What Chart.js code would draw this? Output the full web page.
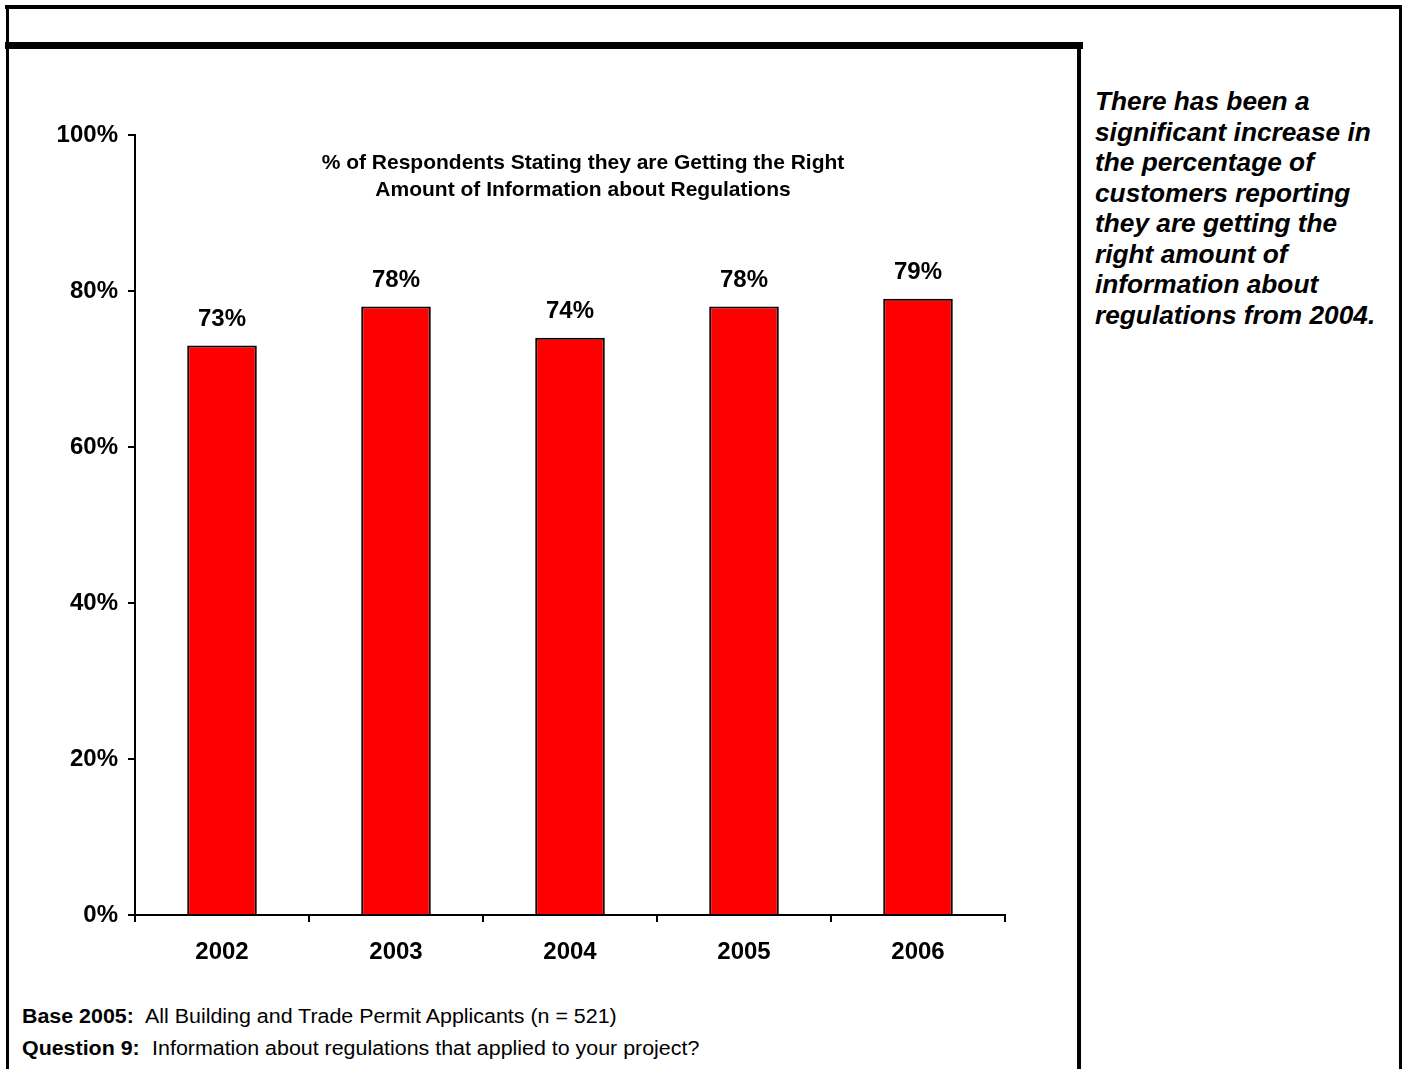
<!DOCTYPE html>
<html>
<head>
<meta charset="utf-8">
<script src="https://cdn.jsdelivr.net/npm/chart.js@4.4.1/dist/chart.umd.min.js"></script>
<style>
  body { margin: 0; width: 1405px; height: 1069px; position: relative; background: #fff; overflow: hidden; font-family: "Liberation Sans", Arial, sans-serif; }
  .rule { position: absolute; background: #000; }
  #chartBox { position: absolute; left: 0; top: 0; width: 1075px; height: 1000px; }
  .note { position: absolute; left: 1095px; top: 86px; font: italic bold 26px "Liberation Sans", Arial, sans-serif; line-height: 30.5px; color: #000; transform: scaleX(1.01); transform-origin: left top; }
  .foot { position: absolute; left: 22px; font: 20px "Liberation Sans", Arial, sans-serif; color: #000; white-space: nowrap; transform: scaleX(1.07); transform-origin: left center; }
  .foot b { margin-right: 6px; }
</style>
</head>
<body>
<!-- frame -->
<div class="rule" style="left:5px;top:5px;width:1397px;height:4px"></div>
<div class="rule" style="left:6px;top:5px;width:3px;height:1064px"></div>
<div class="rule" style="left:1399px;top:5px;width:3px;height:1064px"></div>
<div class="rule" style="left:5px;top:42px;width:1078px;height:7px"></div>
<div class="rule" style="left:1077px;top:42px;width:4px;height:1027px"></div>

<div id="chartBox"><canvas id="statsChart"></canvas></div>

<div class="note">There has been a<br>significant increase in<br>the percentage of<br>customers reporting<br>they are getting the<br>right amount of<br>information about<br>regulations from 2004.</div>

<div class="foot" style="top:1005px"><b>Base 2005:</b> All Building and Trade Permit Applicants (n = 521)</div>
<div class="foot" style="top:1037px"><b>Question 9:</b> Information about regulations that applied to your project?</div>

<script>
// survey years and share of respondents (%)
const years = ['2002', '2003', '2004', '2005', '2006'];
const shares = [73, 78, 74, 78, 79];
const yTicks = [0, 20, 40, 60, 80, 100];
const titleLines = [
    '% of Respondents Stating they are Getting the Right',
    'Amount of Information about Regulations'
];

const FONT = '"Liberation Sans", Arial, sans-serif';

// value labels over bars + title drawn inside the plot
const barText = {
    id: 'barText',
    afterDatasetsDraw(chart) {
        const ctx = chart.ctx;
        const area = chart.chartArea;
        ctx.save();
        ctx.fillStyle = '#000';
        ctx.textAlign = 'center';
        ctx.textBaseline = 'middle';
        ctx.font = 'bold 24px ' + FONT;
        chart.getDatasetMeta(0).data.forEach((bar, i) => {
            ctx.fillText(shares[i] + '%', bar.x, bar.y - 26);
        });
        ctx.font = 'bold 21px ' + FONT;
        titleLines.forEach((line, i) => {
            ctx.fillText(line, area.left + 448, area.top + 28 + i * 27);
        });
        ctx.restore();
    }
};

document.addEventListener('DOMContentLoaded', () => {
    const ctx = document.getElementById('statsChart');
    new Chart(ctx, {
        type: 'bar',
        data: {
            labels: years,
            datasets: [{
                data: shares,
                backgroundColor: '#FF0000',
                borderColor: '#000',
                borderWidth: 2,
                borderSkipped: 'bottom',
                barPercentage: 0.4,
                categoryPercentage: 1
            }]
        },
        options: {
            responsive: true,
            maintainAspectRatio: false,
            animation: false,
            layout: { padding: { top: 135, right: 70, bottom: 0, left: 0 } },
            plugins: {
                legend: { display: false },
                tooltip: { enabled: false }
            },
            scales: {
                x: {
                    afterFit: s => { s.height = 85; },
                    grid: { offset: true, drawOnChartArea: false, tickLength: 7, color: '#000', lineWidth: 2 },
                    border: { display: true, color: '#000', width: 2 },
                    ticks: { color: '#000', padding: 16, font: { family: FONT, size: 24, weight: 'bold' } }
                },
                y: {
                    min: 0,
                    max: 100,
                    afterFit: s => { s.width = 135; },
                    afterBuildTicks: s => { s.ticks = yTicks.map(v => ({ value: v })); },
                    grid: { drawOnChartArea: false, tickLength: 7, color: '#000', lineWidth: 2 },
                    border: { display: true, color: '#000', width: 2 },
                    ticks: {
                        color: '#000',
                        padding: 10,
                        font: { family: FONT, size: 24, weight: 'bold' },
                        callback: v => v + '%'
                    }
                }
            }
        },
        plugins: [barText]
    });
});
</script>
</body>
</html>
